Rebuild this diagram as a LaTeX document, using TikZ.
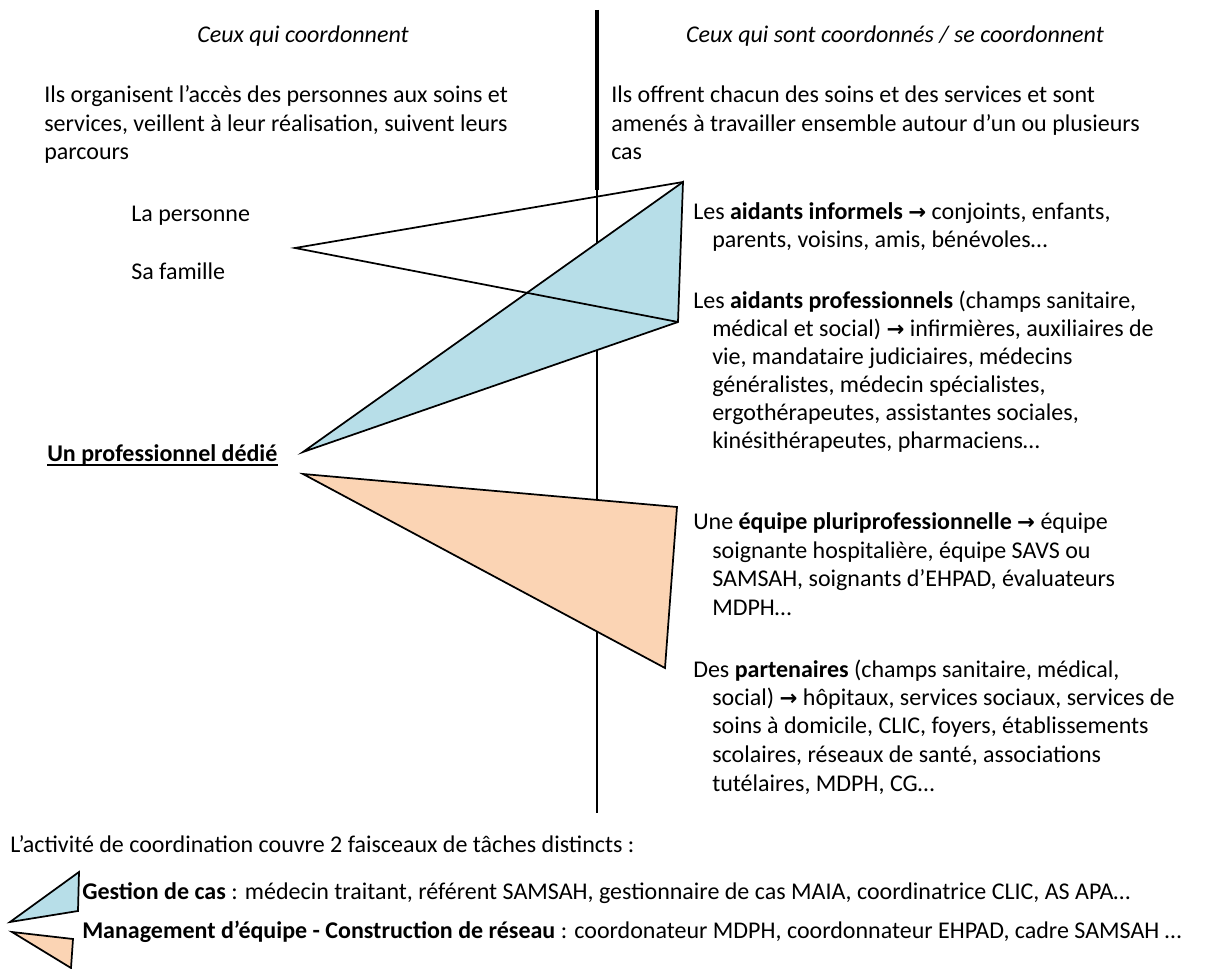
\documentclass[tikz,border=0pt]{standalone}
\usepackage{fontspec}
\setmainfont{Carlito}
\newfontfamily\arrowfont{DejaVu Sans}
\newcommand{\myarrow}{{\arrowfont\bfseries\fontsize{16}{16}\selectfont →}}
\definecolor{caseblue}{HTML}{B7DEE8}
\definecolor{teamorange}{HTML}{FBD4B4}
\begin{document}
\begin{tikzpicture}[x=0.75pt,y=-0.75pt,
  txt/.style={anchor=base west,inner sep=0pt,font=\fontsize{18}{22}\selectfont},
  head/.style={anchor=base,inner sep=0pt,font=\fontsize{18}{22}\selectfont\itshape},
  tri/.style={draw=black,line width=1.3pt,line join=miter},
  axis/.style={draw=black,line width=1.4pt}]
\useasboundingbox (0,0) rectangle (1211,969);
% vertical separator
\coordinate (vtop) at (597,10);
\coordinate (vmid) at (597,190);
\coordinate (vbot) at (597,813);
\draw[line width=2.6pt] (vtop) -- (vmid);
\draw[axis] (vmid) -- (vbot);
% headings
\node[head] (h1) at (303,43) {Ceux qui coordonnent};
\node[head] (h2) at (895,43) {Ceux qui sont coordonnés / se coordonnent};
% left paragraph
\node[txt] (l1) at (44,103) {Ils organisent l’accès des personnes aux soins et};
\node[txt] (l2) at (44,132) {services, veillent à leur réalisation, suivent leurs};
\node[txt] (l3) at (44,160) {parcours};
% right paragraph
\node[txt] (r1) at (611,103) {Ils offrent chacun des soins et des services et sont};
\node[txt] (r2) at (611,132) {amenés à travailler ensemble autour d’un ou plusieurs};
\node[txt] (r3) at (611,160) {cas};
% left items
\node[txt] (pers) at (131,222) {La personne};
\node[txt] (fam) at (131,280) {Sa famille};
\node[txt,font=\fontsize{18}{22}\selectfont\bfseries] (pro) at (47,462) {Un professionnel dédié};
\draw[line width=1.3pt] ([yshift=-2.4pt]pro.base west) -- ([yshift=-2.4pt]pro.base east);
% triangles
\coordinate (wt) at (295,248);
\coordinate (bt) at (683,182);
\coordinate (bb) at (678,322);
\coordinate (bl) at (303,452);
\coordinate (ol) at (303,474);
\coordinate (ot) at (677,507);
\coordinate (ob) at (665,668);
\filldraw[tri,fill=caseblue] (bl) -- (bt) -- (bb) -- cycle;
\draw[tri] (bt) -- (wt) -- (bb);
\filldraw[tri,fill=teamorange] (ol) -- (ot) -- (ob) -- cycle;
% right items
\node[txt] (a1) at (693,220) {Les \textbf{aidants informels} \myarrow{} conjoints, enfants,};
\node[txt] (a2) at (712,248) {parents, voisins, amis, bénévoles…};
\node[txt] (p1) at (693,309) {Les \textbf{aidants professionnels} (champs sanitaire,};
\node[txt] (p2) at (712,337) {médical et social) \myarrow{} infirmières, auxiliaires de};
\node[txt] (p3) at (712,365) {vie, mandataire judiciaires, médecins};
\node[txt] (p4) at (712,393) {généralistes, médecin spécialistes,};
\node[txt] (p5) at (712,421) {ergothérapeutes, assistantes sociales,};
\node[txt] (p6) at (712,449) {kinésithérapeutes, pharmaciens…};
\node[txt] (e1) at (693,530) {Une \textbf{équipe pluriprofessionnelle} \myarrow{} équipe};
\node[txt] (e2) at (712,558.5) {soignante hospitalière, équipe SAVS ou};
\node[txt] (e3) at (712,587) {SAMSAH, soignants d’EHPAD, évaluateurs};
\node[txt] (e4) at (712,615.5) {MDPH…};
\node[txt] (d1) at (693,677) {Des \textbf{partenaires} (champs sanitaire, médical,};
\node[txt] (d2) at (712,705.5) {social) \myarrow{} hôpitaux, services sociaux, services de};
\node[txt] (d3) at (712,734) {soins à domicile, CLIC, foyers, établissements};
\node[txt] (d4) at (712,762.5) {scolaires, réseaux de santé, associations};
\node[txt] (d5) at (712,791) {tutélaires, MDPH, CG…};
% bottom legend
\node[txt] (act) at (10,852) {L’activité de coordination couvre 2 faisceaux de tâches distincts :};
\coordinate (sb1) at (10,922);
\coordinate (sb2) at (79,872);
\coordinate (sb3) at (78,911);
\filldraw[tri,fill=caseblue] (sb1) -- (sb2) -- (sb3) -- cycle;
\coordinate (so1) at (12,932);
\coordinate (so2) at (73,939);
\coordinate (so3) at (71,968);
\filldraw[tri,fill=teamorange] (so1) -- (so2) -- (so3) -- cycle;
\node[txt] (g) at (82,899) {\textbf{Gestion de cas} : médecin traitant, référent SAMSAH, gestionnaire de cas MAIA, coordinatrice CLIC, AS APA…};
\node[txt] (m) at (82,938) {\textbf{Management d’équipe - Construction de réseau} : coordonateur MDPH, coordonnateur EHPAD, cadre SAMSAH …};
\end{tikzpicture}
\end{document}
